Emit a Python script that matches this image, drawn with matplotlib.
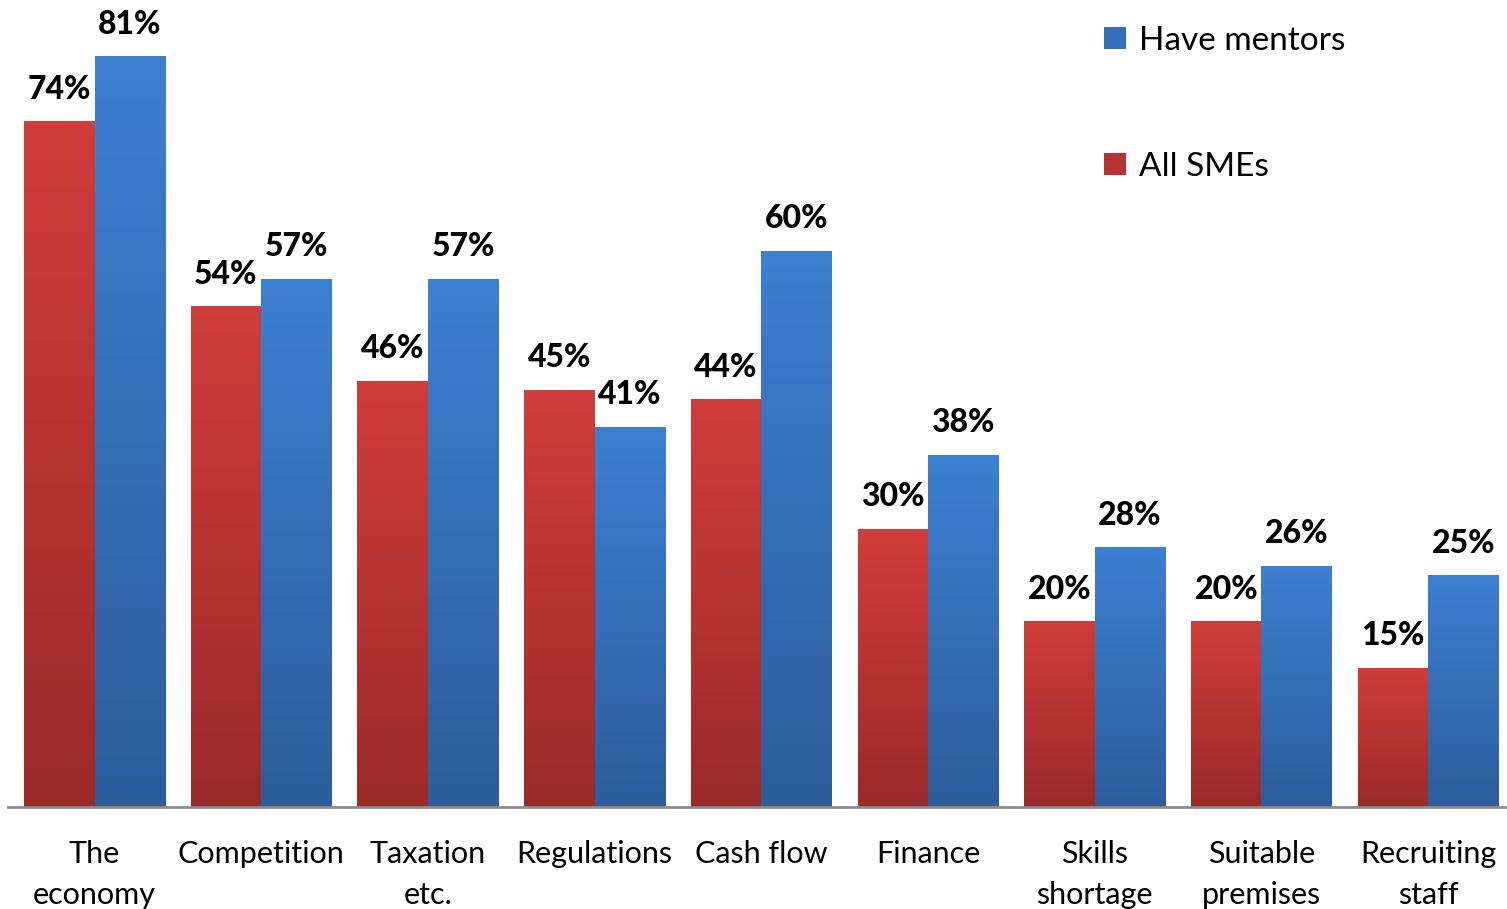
import numpy as np
import matplotlib.pyplot as plt
from matplotlib.colors import LinearSegmentedColormap
from matplotlib.patches import Patch

plt.rcParams['font.family'] = ['Lato', 'DejaVu Sans']

categories = ['The\neconomy', 'Competition', 'Taxation\netc.', 'Regulations', 'Cash flow',
              'Finance', 'Skills\nshortage', 'Suitable\npremises', 'Recruiting\nstaff']
all_smes = [74, 54, 46, 45, 44, 30, 20, 20, 15]
have_mentors = [81, 57, 57, 41, 60, 38, 28, 26, 25]

red_cmap = LinearSegmentedColormap.from_list('red', ['#9b2a2a', '#d03d3a'])
blue_cmap = LinearSegmentedColormap.from_list('blue', ['#2d5d9b', '#3c80d1'])

fig = plt.figure(figsize=(15.07, 9.09), dpi=100)
ax = fig.add_axes([8 / 1507, 102 / 909, 1497 / 1507, 807 / 909])

x = np.arange(len(categories))
w = 0.423
grad = np.linspace(0, 1, 256).reshape(-1, 1)


def gradient_bars(xs, vals, cmap):
    bars = ax.bar(xs, vals, w, color='none', edgecolor='none')
    for b in bars:
        x0, y0 = b.get_x(), b.get_y()
        ax.imshow(grad, extent=[x0, x0 + b.get_width(), y0, y0 + b.get_height()],
                  origin='lower', aspect='auto', cmap=cmap, zorder=2)
    for xi, v in zip(xs, vals):
        ax.annotate(f'{v}%', (xi, v), xytext=(0, 16.5), textcoords='offset points',
                    ha='center', va='baseline', fontsize=23, fontweight='black')
    return bars


gradient_bars(x - w / 2, all_smes, red_cmap)
gradient_bars(x + w / 2, have_mentors, blue_cmap)

ax.set_xlim(-0.519, 8.461)
ax.set_ylim(0, 87.15)

for s in ['top', 'right', 'left']:
    ax.spines[s].set_visible(False)
ax.spines['bottom'].set_color('#8c8c8c')
ax.spines['bottom'].set_linewidth(2)
ax.set_yticks([])
ax.set_xticks(x)
ax.set_xticklabels(categories, fontsize=22, linespacing=1.55)
ax.tick_params(axis='x', length=0, pad=24)

handles = [Patch(facecolor='#3470ba'), Patch(facecolor='#b83434')]
ax.legend(handles, ['Have mentors', 'All SMEs'], loc='upper left',
          bbox_to_anchor=(1081 / 1507 - 8 / 1497, 1.005), frameon=False, fontsize=24,
          handlelength=0.66, handleheight=0.62, handletextpad=0.4, labelspacing=2.88)

fig.savefig('out.png', dpi=100)
